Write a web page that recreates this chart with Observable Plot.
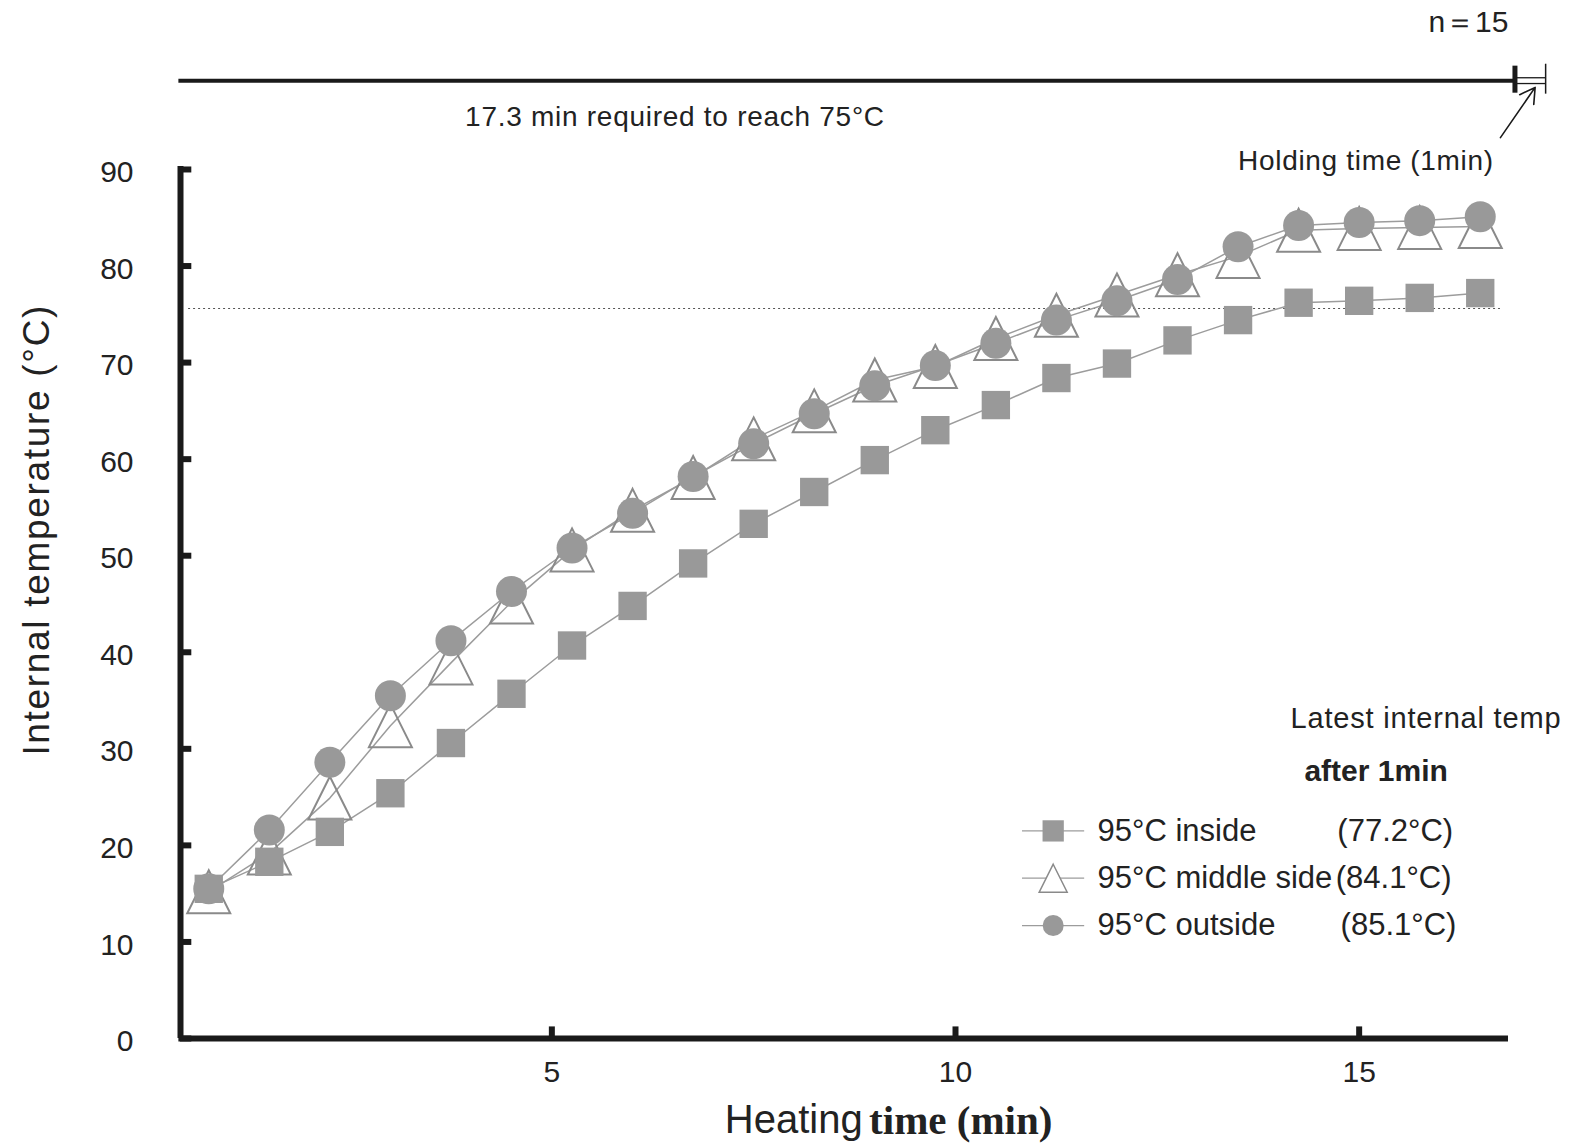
<!DOCTYPE html>
<html><head><meta charset="utf-8">
<script src="https://cdn.jsdelivr.net/npm/d3@7"></script>
<script src="https://cdn.jsdelivr.net/npm/@observablehq/plot@0.6"></script>
<style>body{margin:0;background:#fff;} svg{display:block}</style>
</head><body><div id="chart"></div>
<script>
// ---- data ----
const time    = [0.75,1.5,2.25,3,3.75,4.5,5.25,6,6.75,7.5,8.25,9,9.75,10.5,11.25,12,12.75,13.5,14.25,15,15.75,16.5];
const inside  = [15.5,18.3,21.4,25.4,30.6,35.7,40.7,44.8,49.2,53.3,56.6,59.9,63.0,65.6,68.4,69.9,72.3,74.4,76.2,76.4,76.7,77.2];
const middle  = [15.2,19.2,24.9,32.4,38.9,45.2,50.6,54.7,58.1,62.1,65.0,68.2,69.6,72.5,74.9,77.0,79.1,81.0,83.7,83.9,84.0,84.1];
const outside = [15.5,21.6,28.6,35.5,41.2,46.3,50.8,54.4,58.2,61.6,64.7,67.6,69.7,72.0,74.4,76.4,78.6,82.0,84.2,84.5,84.7,85.1];
const seriesNames = ["95°C inside", "95°C middle side", "95°C outside"];
const latestTemps = ["(77.2°C)", "(84.1°C)", "(85.1°C)"];
const xTicks = [5, 10, 15];
const yTicks = [0,10,20,30,40,50,60,70,80,90];
const thresholdTemp = 75.6;   // dotted reference line as drawn
const barEnd = 16.93;         // heating bar end
const holdEnd = 17.31;        // end of holding time

const rows = (vals) => time.map((t, i) => ({t, v: vals[i]}));
const dIn = rows(inside), dMid = rows(middle), dOut = rows(outside);

// Excel-like triangle marker (box centered on the point)
const triBox = {draw(ctx, size){ const h = Math.sqrt(size/Math.PI); ctx.moveTo(0,-h); ctx.lineTo(h,h); ctx.lineTo(-h,h); ctx.closePath(); }};

const lineGray = "#9c9c9c", markGray = "#999999", ink = "#1a1a1a";
const T = (arr, o) => Plot.text(arr, {x: "x", y: "y", text: "text", ...o});

const legendY = [21.5, 16.6, 11.7];

const chart = Plot.plot({
  width: 1573, height: 1148,
  marginLeft: 180, marginRight: 65, marginTop: 0, marginBottom: 110,
  x: {domain: [0.40, 16.85]},
  y: {domain: [0, 107.5]},
  style: {fontFamily: "'Liberation Sans', Arial, sans-serif", color: "#222", background: "#fff", overflow: "visible"},
  marks: [
    Plot.axisY({ticks: yTicks, tickSize: 0, tickPadding: 47, fontSize: 30, label: null, tickFormat: d => d, dy: 3}),
    Plot.axisX({ticks: xTicks, tickSize: 0, tickPadding: 22, fontSize: 30, label: null, tickFormat: d => d}),
    // threshold dotted line
    Plot.ruleY([{y: thresholdTemp}], {y: "y", x1: () => 0.5, x2: () => 16.75, stroke: "#555", strokeWidth: 1.2, strokeDasharray: "2,3"}),
    // axes
    Plot.ruleX([0.40], {x: d => d, y1: () => 0, y2: () => 90.3, stroke: ink, strokeWidth: 6}),
    Plot.ruleY([0], {y: d => d, x1: () => 0.38, x2: () => 16.85, stroke: ink, strokeWidth: 6}),
    Plot.ruleY(yTicks, {y: d => d, x1: () => 0.40, x2: () => 0.54, stroke: ink, strokeWidth: 6}),
    Plot.ruleX(xTicks, {x: d => d, y1: () => 0, y2: () => 1.2, stroke: ink, strokeWidth: 6}),
    // series lines
    Plot.line(dIn, {x: "t", y: "v", stroke: lineGray, strokeWidth: 1.5}),
    Plot.line(dMid, {x: "t", y: "v", stroke: lineGray, strokeWidth: 1.5}),
    Plot.line(dOut, {x: "t", y: "v", stroke: lineGray, strokeWidth: 1.5}),
    // markers
    Plot.dot(dMid, {x: "t", y: "v", symbol: triBox, r: 21.5, fill: "none", stroke: "#8a8a8a", strokeWidth: 2}),
    Plot.dot(dIn, {x: "t", y: "v", symbol: "square", r: 16, fill: markGray, stroke: "none"}),
    Plot.dot(dOut, {x: "t", y: "v", symbol: "circle", r: 15.5, fill: markGray, stroke: "none"}),
    // top bar
    Plot.ruleY([{y: 99.2}], {y: "y", x1: () => 0.38, x2: () => barEnd, stroke: ink, strokeWidth: 4}),
    Plot.ruleX([{x: barEnd}], {x: "x", y1: () => 97.9, y2: () => 100.7, stroke: ink, strokeWidth: 5}),
    Plot.ruleY([{y: 99.5}, {y: 98.9}], {y: "y", x1: () => barEnd, x2: () => holdEnd, stroke: ink, strokeWidth: 1.3}),
    Plot.ruleX([{x: holdEnd}], {x: "x", y1: () => 97.8, y2: () => 100.9, stroke: ink, strokeWidth: 1.5}),
    Plot.arrow([{x1: 16.75, y1: 93.3, x2: 17.18, y2: 98.5}], {x1: "x1", y1: "y1", x2: "x2", y2: "y2", stroke: ink, strokeWidth: 1.6, headLength: 16, bend: 0}),
    T([{x: 16.85, y: 105.2, text: "n＝15"}], {textAnchor: "end", fontSize: 30}),
    T([{x: 6.52, y: 95.4, text: "17.3 min required to reach 75°C"}], {fontSize: 28}),
    T([{x: 15.08, y: 90.9, text: "Holding time (1min)"}], {fontSize: 28}),
    // axis titles
    T([{x: -1.37, y: 52.6, text: "Internal temperature (°C)"}], {rotate: -90, fontSize: 37}),
    T([{x: 8.85, y: -8.5, text: "Heating"}], {textAnchor: "end", fontSize: 40}),
    T([{x: 8.93, y: -8.5, text: "time (min)"}], {textAnchor: "start", fontSize: 41, fontFamily: "'Liberation Serif', 'Times New Roman', serif", fontWeight: "bold"}),
    // legend
    T([{x: 14.15, y: 33.1, text: "Latest internal temp"}], {textAnchor: "start", fontSize: 29}),
    T([{x: 15.21, y: 27.65, text: "after 1min"}], {fontSize: 30, fontWeight: "bold"}),
    Plot.ruleY(legendY, {y: d => d, x1: () => 10.83, x2: () => 11.6, stroke: lineGray, strokeWidth: 1.3}),
    Plot.dot([legendY[0]], {x: () => 11.21, y: d => d, symbol: "square", r: 12, fill: markGray}),
    Plot.dot([legendY[1]], {x: () => 11.21, y: d => d, symbol: triBox, r: 14, fill: "white", stroke: "#8a8a8a", strokeWidth: 1.5}),
    Plot.dot([legendY[2]], {x: () => 11.21, y: d => d, symbol: "circle", r: 10.5, fill: markGray}),
    T(seriesNames.map((s, i) => ({x: 11.76, y: legendY[i], text: s})), {textAnchor: "start", fontSize: 31}),
    T(latestTemps.map((s, i) => ({x: [14.73, 14.71, 14.77][i], y: legendY[i], text: s})), {textAnchor: "start", fontSize: 31})
  ]
});
document.getElementById("chart").appendChild(chart);

// stretch a few annotation texts to the reference widths
const widths = {
  "Internal temperature (°C)": 450,
  "17.3 min required to reach 75°C": 419,
  "Holding time (1min)": 255,
  "Latest internal temp": 270
};
chart.querySelectorAll("text").forEach(el => {
  const w = widths[el.textContent];
  if (w) { el.setAttribute("textLength", w); el.setAttribute("lengthAdjust", "spacing"); }
});
</script>
</body></html>
